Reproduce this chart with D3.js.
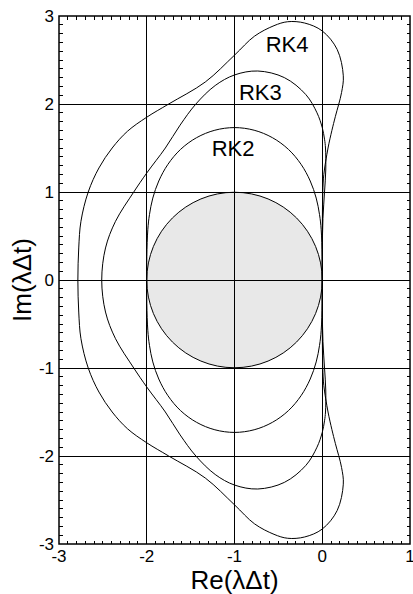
<!DOCTYPE html>
<html>
<head>
<meta charset="utf-8">
<script src="https://cdn.jsdelivr.net/npm/d3@7/dist/d3.min.js"></script>
<style>
  html, body { margin: 0; padding: 0; background: #fff; }
  text { font-family: "Liberation Sans", Arial, sans-serif; fill: #000; }
</style>
</head>
<body>
<svg id="chart" width="413" height="594"></svg>
<script>
// ---- data ----
const xTicks = [-3, -2, -1, 0, 1];
const yTicks = [-3, -2, -1, 0, 1, 2, 3];
const xTickLabels = ["-3", "-2", "-1", "0", "1"];
const yTickLabels = ["-3", "-2", "-1", "0", "1", "2", "3"];

const eulerCenter = [-1, 0];
const eulerRadius = 1;

const rk2 = [
  [0,0],[-0.001,0.268],[-0.012,0.571],[-0.031,0.743],[-0.069,0.931],[-0.137,1.125],[-0.241,1.314],
  [-0.385,1.484],[-0.567,1.617],[-0.776,1.702],[-1,1.732],[-1.224,1.702],[-1.433,1.617],[-1.615,1.484],
  [-1.759,1.314],[-1.863,1.125],[-1.931,0.931],[-1.969,0.743],[-1.988,0.571],[-1.999,0.268],[-2,0],
  [-1.999,-0.268],[-1.988,-0.571],[-1.969,-0.743],[-1.931,-0.931],[-1.863,-1.125],[-1.759,-1.314],
  [-1.615,-1.484],[-1.433,-1.617],[-1.224,-1.702],[-1,-1.732],[-0.776,-1.702],[-0.567,-1.617],
  [-0.385,-1.484],[-0.241,-1.314],[-0.137,-1.125],[-0.069,-0.931],[-0.031,-0.743],[-0.012,-0.571],[-0.001,-0.268]
];

const rk3 = [
  [0,0],[0.001,0.35],[0.008,0.7],[0.026,1.0],[0.04,1.25],[0.037,1.5],[0.026,1.6],[0,1.732],[-0.06,1.90],
  [-0.186,2.106],[-0.432,2.30],[-0.735,2.375],[-1.0,2.33],[-1.22,2.21],[-1.44,2.0],[-1.62,1.76],
  [-1.788,1.5],[-2.0,1.216],[-2.148,1.0],[-2.356,0.667],[-2.47,0.364],[-2.513,0],
  [-2.47,-0.364],[-2.356,-0.667],[-2.148,-1.0],[-2.0,-1.216],[-1.788,-1.5],[-1.62,-1.76],[-1.44,-2.0],
  [-1.22,-2.21],[-1.0,-2.33],[-0.735,-2.375],[-0.432,-2.30],[-0.186,-2.106],[-0.06,-1.90],[0,-1.732],
  [0.026,-1.6],[0.037,-1.5],[0.04,-1.25],[0.026,-1.0],[0.008,-0.7],[0.001,-0.35]
];

const rk4 = [
  [0,0],[0.001,0.6],[0.006,1.0],[0.018,1.2],[0.066,1.5],[0.11,1.7],[0.15,1.86],[0.22,2.13],[0.24,2.32],
  [0.17,2.62],[0,2.83],[-0.2,2.92],[-0.394,2.935],[-0.55,2.89],[-0.773,2.77],[-1.0,2.555],[-1.333,2.25],
  [-1.75,2.0],[-2.0,1.85],[-2.22,1.69],[-2.394,1.5],[-2.545,1.273],[-2.667,1.0],[-2.75,0.667],
  [-2.775,0.364],[-2.785,0],
  [-2.775,-0.364],[-2.75,-0.667],[-2.667,-1.0],[-2.545,-1.273],[-2.394,-1.5],[-2.22,-1.69],[-2.0,-1.85],
  [-1.75,-2.0],[-1.333,-2.25],[-1.0,-2.555],[-0.773,-2.77],[-0.55,-2.89],[-0.394,-2.935],[-0.2,-2.92],
  [0,-2.83],[0.17,-2.62],[0.24,-2.32],[0.22,-2.13],[0.15,-1.86],[0.11,-1.7],[0.066,-1.5],[0.018,-1.2],
  [0.006,-1.0],[0.001,-0.6]
];

const curveNames = ["RK2", "RK3", "RK4"];
const curveLabelAt = [[-1.26, 1.41], [-0.95, 2.05], [-0.645, 2.59]];

// ---- layout ----
const W = 413, H = 594;
const L = 59, R = 410, T = 16, B = 544;
const svg = d3.select("#chart");

const x = d3.scaleLinear().domain([-3, 1]).range([L, R]);
const y = d3.scaleLinear().domain([-3, 3]).range([B, T]);

// Euler disc fill
svg.append("circle")
  .attr("cx", x(eulerCenter[0])).attr("cy", y(eulerCenter[1]))
  .attr("r", x(eulerCenter[0] + eulerRadius) - x(eulerCenter[0]))
  .attr("fill", "#e8e8e8").attr("stroke", "none");

// grid lines
const g = svg.append("g");
g.selectAll("line.gx").data(xTicks.slice(1, -1)).enter().append("line")
  .attr("x1", d => x(d)).attr("x2", d => x(d)).attr("y1", T).attr("y2", B)
  .attr("stroke", "#000").attr("stroke-width", 1).attr("shape-rendering", "crispEdges");
g.selectAll("line.gy").data(yTicks.slice(1, -1)).enter().append("line")
  .attr("y1", d => y(d)).attr("y2", d => y(d)).attr("x1", L).attr("x2", R)
  .attr("stroke", "#000").attr("stroke-width", 1).attr("shape-rendering", "crispEdges");

// Euler circle outline
svg.append("circle")
  .attr("cx", x(eulerCenter[0])).attr("cy", y(eulerCenter[1]))
  .attr("r", x(eulerCenter[0] + eulerRadius) - x(eulerCenter[0]))
  .attr("fill", "none").attr("stroke", "#000").attr("stroke-width", 1);

// stability boundaries
const line = d3.line().x(d => x(d[0])).y(d => y(d[1])).curve(d3.curveCatmullRomClosed.alpha(0.5));
[rk2, rk3, rk4].forEach(c => {
  svg.append("path").attr("d", line(c)).attr("fill", "none")
    .attr("stroke", "#000").attr("stroke-width", 1);
});

// minor ticks (inward) on all four sides
const xMinor = d3.range(-30, 11).map(i => i / 10).filter(v => Math.abs(v - Math.round(v)) > 1e-6);
const yMinor = d3.range(-30, 31).map(i => i / 10).filter(v => Math.abs(v - Math.round(v)) > 1e-6);
const tl = 3.5;
const tk = svg.append("g").attr("stroke", "#000").attr("stroke-width", 1).attr("shape-rendering", "crispEdges");
xMinor.forEach(v => {
  tk.append("line").attr("x1", x(v)).attr("x2", x(v)).attr("y1", B).attr("y2", B - tl);
  tk.append("line").attr("x1", x(v)).attr("x2", x(v)).attr("y1", T).attr("y2", T + tl);
});
yMinor.forEach(v => {
  tk.append("line").attr("y1", y(v)).attr("y2", y(v)).attr("x1", L).attr("x2", L + tl);
  tk.append("line").attr("y1", y(v)).attr("y2", y(v)).attr("x1", R).attr("x2", R - tl);
});

// frame
svg.append("rect").attr("x", L).attr("y", T).attr("width", R - L).attr("height", B - T)
  .attr("fill", "none").attr("stroke", "#000").attr("stroke-width", 1.5);

// tick labels
svg.selectAll("text.xt").data(xTicks).enter().append("text")
  .attr("x", d => x(d)).attr("y", B + 18).attr("text-anchor", "middle")
  .attr("font-size", 17).text((d, i) => xTickLabels[i]);
svg.selectAll("text.yt").data(yTicks).enter().append("text")
  .attr("x", L - 5).attr("y", d => y(d) + 6).attr("text-anchor", "end")
  .attr("font-size", 17).text((d, i) => yTickLabels[i]);

// axis titles
svg.append("text").attr("x", x(-1)).attr("y", 589).attr("text-anchor", "middle")
  .attr("font-size", 26).text("Re(λΔt)");
svg.append("text").attr("transform", `translate(31,${y(0)}) rotate(-90)`)
  .attr("text-anchor", "middle").attr("font-size", 26).text("Im(λΔt)");

// curve labels
curveNames.forEach((n, i) => {
  svg.append("text").attr("x", x(curveLabelAt[i][0])).attr("y", y(curveLabelAt[i][1]))
    .attr("font-size", 22).text(n);
});
</script>
</body>
</html>
